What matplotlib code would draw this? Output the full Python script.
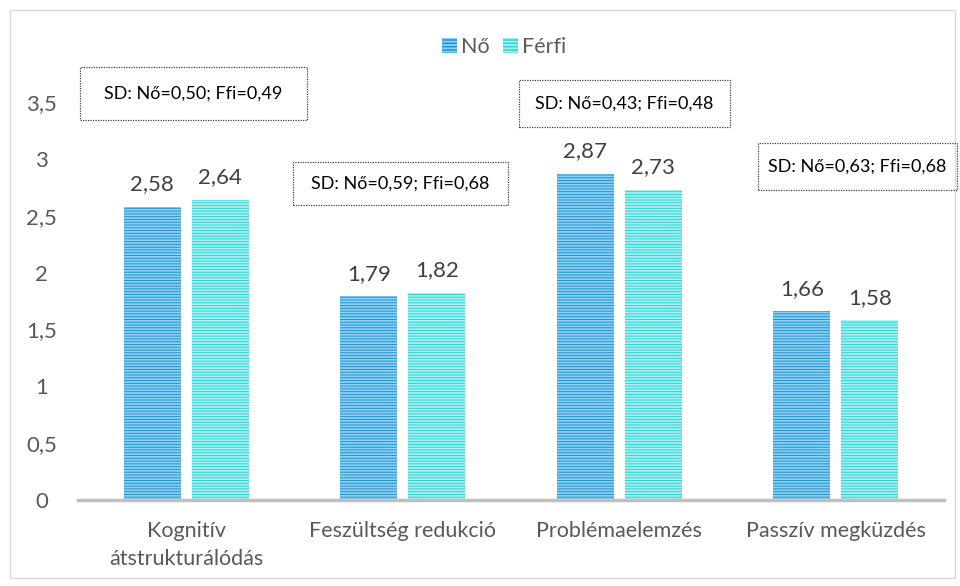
import numpy as np
import matplotlib.pyplot as plt
from matplotlib.patches import Rectangle, Patch

categories = ['Kognitív\nátstrukturálódás', 'Feszültség redukció', 'Problémaelemzés', 'Passzív megküzdés']
no_values = [2.58, 1.79, 2.87, 1.66]
ferfi_values = [2.64, 1.82, 2.73, 1.58]
sd_labels = ['SD: Nő=0,50; Ffi=0,49', 'SD: Nő=0,59; Ffi=0,68',
             'SD: Nő=0,43; Ffi=0,48', 'SD: Nő=0,63; Ffi=0,68']
yticks = [0, 0.5, 1, 1.5, 2, 2.5, 3, 3.5]

plt.rcParams['font.family'] = ['Lato', 'DejaVu Sans']
plt.rcParams['hatch.linewidth'] = 1.3
text_color = '#595959'

W, H = 960, 586
fig = plt.figure(figsize=(W / 100, H / 100), dpi=100)
ax = fig.add_axes([78 / W, (H - 500) / H, (944 - 78) / W, 398 / H])

# outer chart border
fig.patches.append(Rectangle((10 / W, 8 / H), 945 / W, 568 / H, transform=fig.transFigure,
                             fill=False, edgecolor='#D9D9D9', linewidth=1))

x = np.arange(len(categories))
bw = 0.264
gap = 0.05
b1 = ax.bar(x - bw / 2 - gap / 2, no_values, bw, color='#1C93D4', edgecolor='#8ED0F2',
            hatch='------', linewidth=0)
b2 = ax.bar(x + bw / 2 + gap / 2, ferfi_values, bw, color='#27D3D6', edgecolor='#A8F0F0',
            hatch='------', linewidth=0)

for bars in (b1, b2):
    for r in bars:
        v = r.get_height()
        ax.annotate(f'{v:.2f}'.replace('.', ','), (r.get_x() + r.get_width() / 2, v),
                    xytext=(0, 9), textcoords='offset points', ha='center', va='bottom',
                    fontsize=16, color='#404040')

ax.set_xlim(-0.5, len(categories) - 0.5)
ax.set_ylim(0, 3.5)
ax.set_yticks(yticks)
ax.set_yticklabels([f'{t:g}'.replace('.', ',') for t in yticks], fontsize=16, color=text_color)
for lbl in ax.get_yticklabels():
    lbl.set_horizontalalignment('center')
ax.tick_params(axis='y', length=0, pad=26)
ax.set_xticks(x)
ax.set_xticklabels(categories, fontsize=15.5, color=text_color, linespacing=1.5)
ax.tick_params(axis='x', length=0, pad=15)
for s in ['top', 'right', 'left']:
    ax.spines[s].set_visible(False)
ax.spines['bottom'].set_color('#BFBFBF')
ax.spines['bottom'].set_linewidth(2.5)

# SD boxes (pixel positions of the text boxes)
boxes = [(80, 67, 227, 53), (293, 162, 215, 43), (519, 80, 211, 47), (758, 143, 199, 47)]
for (bx, by, bwd, bh), lab in zip(boxes, sd_labels):
    fig.patches.append(Rectangle((bx / W, 1 - (by + bh) / H), bwd / W, bh / H,
                                 transform=fig.transFigure, fill=False, edgecolor='#404040',
                                 linewidth=0.9, linestyle=(0, (1, 1))))
    fig.text((bx + bwd / 2) / W, 1 - (by + bh / 2) / H, lab, ha='center', va='center',
             fontsize=13, color='#000000')

handles = [Patch(facecolor='#1C93D4', edgecolor='#8ED0F2', hatch='-----', linewidth=0),
           Patch(facecolor='#27D3D6', edgecolor='#A8F0F0', hatch='-----', linewidth=0)]
fig.legend(handles, ['Nő', 'Férfi'], loc='center', bbox_to_anchor=(504 / W, 1 - 47 / H),
           ncol=2, frameon=False, fontsize=15.5, handlelength=0.7, handleheight=0.7,
           handletextpad=0.2, columnspacing=0.6, labelcolor=text_color)

fig.savefig('out.png', dpi=100)
